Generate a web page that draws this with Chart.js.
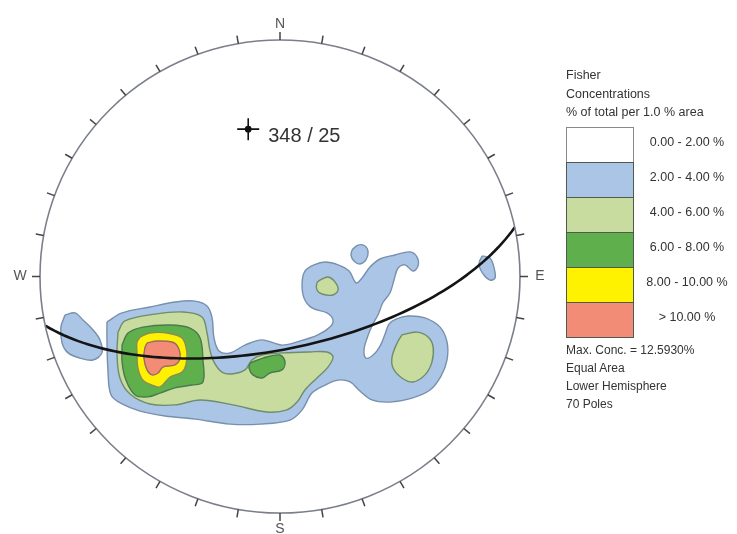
<!DOCTYPE html>
<html>
<head>
<meta charset="utf-8">
<title>Fisher Concentrations – Equal Area Stereonet</title>
<script src="https://cdn.jsdelivr.net/npm/chart.js@4.4.0/dist/chart.umd.min.js"></script>
<style>
  html, body { margin: 0; padding: 0; background: #ffffff; }
  #wrap { position: relative; width: 737px; height: 534px; overflow: hidden; }
  #c { position: absolute; left: 0; top: 0; }
  .txt { position: absolute; font-family: "Liberation Sans", Arial, sans-serif; color: #333; white-space: nowrap; }
  .band { position: absolute; box-sizing: border-box; }
</style>
</head>
<body>
<div id="wrap">
  <canvas id="c" width="737" height="534"></canvas>
</div>
<script>
// ---- Legend content ----
const legendTitle = ['Fisher', 'Concentrations', '% of total per 1.0 % area'];
const levelLabels = ['0.00 - 2.00 %', '2.00 - 4.00 %', '4.00 - 6.00 %', '6.00 - 8.00 %', '8.00 - 10.00 %', '> 10.00 %'];
const legendFooter = ['Max. Conc. = 12.5930%', 'Equal Area', 'Lower Hemisphere', '70 Poles'];

// ---- Mean pole (trend / plunge, degrees) ----
const poleTrend = 348;
const polePlunge = 25;

// ---- Compass points (azimuth, label) ----
const compassAz = [0, 90, 180, 270];
const compassLabels = ['N', 'E', 'S', 'W'];
const tickStepDeg = 10;

// ---- Contour outlines, net radius = 100 (x east, y north) ----
// 2.00 - 4.00 %
const c2Main = [[-72.1,-19.2],[-65.8,-15.4],[-54.2,-12.9],[-43.8,-10.8],[-35.4,-10.4],[-30.4,-12.5],[-28.3,-17.5],[-27.5,-26.0],[-25.4,-31.5],[-20.8,-32.3],[-14.6,-29.0],[-7.5,-26.8],[0.8,-29.0],[8.3,-27.3],[15.8,-24.7],[20.8,-21.4],[22.1,-18.4],[19.6,-15.4],[13.3,-13.3],[10.0,-9.1],[9.2,-2.7],[10.4,2.3],[14.2,4.9],[18.8,6.1],[24.2,4.9],[28.8,2.3],[31.7,-2.7],[34.2,-0.6],[37.5,4.0],[41.7,7.4],[47.9,9.1],[54.2,10.4],[57.1,8.2],[57.5,4.4],[55.4,2.3],[52.1,4.9],[49.2,3.6],[47.5,-1.5],[45.8,-7.0],[42.9,-11.0],[40.8,-16.3],[38.3,-20.9],[36.3,-26.0],[35.0,-31.1],[35.8,-34.5],[38.8,-33.2],[41.7,-29.4],[43.8,-24.3],[45.4,-20.1],[48.3,-18.0],[53.3,-16.7],[60.4,-17.5],[66.7,-21.4],[69.6,-27.7],[69.6,-35.3],[67.1,-42.1],[62.5,-48.0],[55.0,-51.4],[45.8,-53.1],[38.3,-52.2],[33.3,-48.4],[29.2,-44.6],[24.2,-43.8],[18.8,-45.9],[13.3,-49.3],[9.2,-56.4],[4.2,-60.7],[-8.3,-62.4],[-20.8,-62.4],[-35.4,-60.3],[-47.9,-59.0],[-58.3,-56.9],[-65.8,-53.9],[-70.4,-50.1],[-71.7,-39.5],[-72.1,-26.8]];
const c2West = [[-89.6,-16.3],[-85.4,-15.4],[-82.1,-18.4],[-77.9,-22.6],[-75.0,-26.8],[-74.2,-32.3],[-77.9,-35.3],[-83.3,-34.5],[-88.3,-32.3],[-90.8,-28.1],[-91.3,-21.4]];
const c2Islet = [[30.0,11.2],[32.5,13.3],[35.4,12.9],[36.7,10.4],[35.8,7.0],[33.3,5.3],[30.8,6.6],[29.6,8.9]];
const c2East = [[84.2,8.7],[87.5,7.8],[89.2,3.6],[89.6,-0.6],[87.5,-1.5],[84.6,1.1],[82.9,5.3]];
// 4.00 - 6.00 %
const c4Main = [[-67.5,-23.5],[-64.6,-18.8],[-52.1,-15.9],[-40.4,-15.0],[-32.5,-17.1],[-30.4,-23.9],[-29.2,-31.1],[-27.5,-36.2],[-24.2,-40.4],[-20.0,-41.2],[-14.6,-39.5],[-11.7,-35.3],[-7.5,-33.2],[1.3,-32.3],[12.5,-31.9],[19.6,-31.9],[22.1,-34.0],[20.0,-38.3],[15.4,-42.9],[10.4,-48.0],[7.1,-53.1],[2.9,-56.4],[-5.4,-57.3],[-19.6,-54.3],[-33.3,-52.2],[-43.8,-54.3],[-54.2,-53.9],[-62.5,-49.7],[-66.7,-42.9],[-67.9,-33.2]];
const c4East = [[50.8,-24.7],[57.1,-23.5],[61.7,-25.6],[63.8,-29.8],[63.3,-36.2],[60.4,-41.6],[55.4,-44.6],[50.8,-42.9],[47.1,-38.7],[46.7,-34.0],[48.8,-28.1]];
const c4North = [[16.7,-1.5],[20.0,-0.2],[22.9,-2.3],[24.2,-5.7],[22.1,-7.8],[17.5,-7.4],[15.4,-5.7],[15.4,-2.7]];
// 6.00 - 8.00 %
const c6Core = [[-65.8,-28.9],[-63.3,-23.9],[-57.1,-21.4],[-45.8,-20.5],[-37.5,-21.8],[-33.3,-26.0],[-32.1,-35.3],[-32.1,-44.6],[-36.7,-45.9],[-43.8,-47.1],[-50.0,-49.3],[-55.0,-50.9],[-60.4,-50.1],[-64.2,-43.8],[-65.8,-36.2]];
const c6Patch = [[-12.5,-36.6],[-7.1,-34.5],[0.0,-33.2],[2.1,-36.2],[0.8,-39.5],[-4.2,-40.8],[-7.5,-42.9],[-11.3,-41.6],[-12.9,-38.7]];
// 8.00 - 10.00 %
const c8Core = [[-58.3,-25.6],[-54.2,-23.9],[-47.1,-23.9],[-40.8,-26.0],[-38.8,-31.9],[-39.2,-37.4],[-40.8,-40.4],[-45.8,-42.5],[-50.0,-46.7],[-53.3,-45.9],[-57.1,-43.8],[-59.2,-38.7],[-59.6,-31.9],[-59.6,-27.7]];
// > 10.00 %
const c10Core = [[-55.4,-28.1],[-51.3,-27.3],[-45.0,-27.7],[-42.5,-29.8],[-41.7,-34.5],[-43.8,-37.4],[-48.8,-38.3],[-50.8,-40.8],[-53.3,-41.6],[-55.4,-39.5],[-56.7,-34.5],[-56.3,-30.2]];

// ---- Styles ----
const levelFill   = ['#ffffff', '#aac5e6', '#c8dc9f', '#5fb04d', '#fff200', '#f28c76'];
const levelStroke = ['#7a7f8a', '#7890ad', '#6f8c6c', '#4b7a4e', '#8c8a55', '#9a6c62'];
const FONT = '"Liberation Sans", Arial, sans-serif';

// ---- Projection helpers (lower hemisphere) ----
const rad = d => d * Math.PI / 180;
// unit vector (north, east, down) -> net coordinates, equal-area
function equalArea(n, e, dn) {
  const h = Math.hypot(n, e) || 1;
  const r = Math.sqrt(Math.max(0, 1 - dn));
  return { x: 100 * r * e / h, y: 100 * r * n / h };
}
// trend / plunge -> net coordinates, equal-angle placement of the pole symbol
function equalAngle(trend, plunge) {
  const r = Math.tan(rad((90 - plunge) / 2));
  return { x: 100 * r * Math.sin(rad(trend)), y: 100 * r * Math.cos(rad(trend)) };
}
// great circle of the plane whose pole is (trend, plunge)
function greatCircle(trend, plunge) {
  const dipDir = (trend + 180) % 360, dip = 90 - plunge;
  const s = [Math.cos(rad(dipDir - 90)), Math.sin(rad(dipDir - 90)), 0];
  const d = [Math.cos(rad(dip)) * Math.cos(rad(dipDir)), Math.cos(rad(dip)) * Math.sin(rad(dipDir)), Math.sin(rad(dip))];
  const out = [];
  for (let k = 0; k <= 180; k += 2) {
    const t = rad(k);
    const v = [0, 1, 2].map(i => Math.cos(t) * s[i] + Math.sin(t) * d[i]);
    out.push(equalArea(v[0], v[1], v[2]));
  }
  return out;
}

const ring = pts => { const d = pts.map(([x, y]) => ({ x, y })); d.push({ ...d[0] }); return d; };

function contour(pts, level) {
  return {
    data: ring(pts), showLine: true, fill: 'shape', tension: 0.35,
    backgroundColor: levelFill[level], borderColor: levelStroke[level], borderWidth: 1.4,
    pointRadius: 0, pointHoverRadius: 0, order: 10 - level
  };
}

const poleXY = equalAngle(poleTrend, polePlunge);

const datasets = [
  contour(c2Main, 1), contour(c2West, 1), contour(c2Islet, 1), contour(c2East, 1),
  contour(c4Main, 2), contour(c4East, 2), contour(c4North, 2),
  contour(c6Core, 3), contour(c6Patch, 3),
  contour(c8Core, 4),
  contour(c10Core, 5),
  { data: greatCircle(poleTrend, polePlunge), showLine: true, fill: false, tension: 0,
    borderColor: '#141414', borderWidth: 2.6, pointRadius: 0, order: 2 },
  { data: [poleXY], pointStyle: 'cross', pointRadius: 11, borderColor: '#111', borderWidth: 1.6,
    backgroundColor: '#111', order: 1 },
  { data: [poleXY], pointStyle: 'circle', pointRadius: 3.4, borderColor: '#111', borderWidth: 0,
    backgroundColor: '#111', order: 0 }
];

// Net outline, azimuth ticks, compass letters and pole label
const netFrame = {
  id: 'netFrame',
  afterDatasetsDraw(chart) {
    const { ctx, scales: { x, y } } = chart;
    const cx = x.getPixelForValue(0), cy = y.getPixelForValue(0);
    const rx = x.getPixelForValue(100) - cx, ry = cy - y.getPixelForValue(100);
    ctx.save();
    ctx.strokeStyle = levelStroke[0];
    ctx.lineWidth = 1.6;
    ctx.beginPath();
    ctx.ellipse(cx, cy, rx, ry, 0, 0, Math.PI * 2);
    ctx.stroke();
    ctx.strokeStyle = '#444';
    ctx.lineWidth = 1.5;
    for (let a = 0; a < 360; a += tickStepDeg) {
      const sx = Math.sin(rad(a)), sy = Math.cos(rad(a));
      const px = cx + rx * sx, py = cy - ry * sy;
      ctx.beginPath();
      ctx.moveTo(px, py);
      ctx.lineTo(px + 8 * sx, py - 8 * sy);
      ctx.stroke();
    }
    ctx.fillStyle = '#555';
    ctx.font = '14px ' + FONT;
    ctx.textAlign = 'center';
    ctx.textBaseline = 'middle';
    compassAz.forEach((a, i) => {
      const sx = Math.sin(rad(a)), sy = Math.cos(rad(a));
      const off = (a === 0 || a === 180) ? 16 : 20;
      ctx.fillText(compassLabels[i], cx + (rx + off) * sx, cy - (ry + off) * sy);
    });
    const mx = x.getPixelForValue(poleXY.x), my = y.getPixelForValue(poleXY.y);
    ctx.fillStyle = '#333';
    ctx.font = '20px ' + FONT;
    ctx.textAlign = 'left';
    ctx.fillText(poleTrend + ' / ' + polePlunge, mx + 20, my + 7);
    ctx.restore();
  }
};

new Chart(document.getElementById('c'), {
  type: 'scatter',
  data: { datasets },
  options: {
    responsive: false,
    animation: false,
    events: [],
    layout: { padding: { left: 40, top: 40, right: 217, bottom: 21 } },
    scales: {
      x: { type: 'linear', min: -100, max: 100, display: false },
      y: { type: 'linear', min: -100, max: 100, display: false }
    },
    plugins: { legend: { display: false }, tooltip: { enabled: false } }
  },
  plugins: [netFrame]
});

// ---- Legend panel ----
const wrap = document.getElementById('wrap');
function addText(str, left, top, size, extra) {
  const el = document.createElement('div');
  el.className = 'txt';
  el.textContent = str;
  el.style.left = left + 'px';
  el.style.top = top + 'px';
  el.style.fontSize = size + 'px';
  el.style.lineHeight = '18px';
  if (extra) Object.assign(el.style, extra);
  wrap.appendChild(el);
}
legendTitle.forEach((t, i) => addText(t, 566, 66 + i * 18.5, 12.5));
levelLabels.forEach((t, i) => {
  const band = document.createElement('div');
  band.className = 'band';
  band.style.left = '566px';
  band.style.top = (127 + i * 35) + 'px';
  band.style.width = '68px';
  band.style.height = '36px';
  band.style.background = levelFill[i];
  band.style.border = '1px solid ' + (i === 0 ? '#8a8a8a' : '#4e5a4e');
  wrap.appendChild(band);
  addText(t, 638, 127 + i * 35 + 6, 12.5, { width: '98px', textAlign: 'center' });
});
legendFooter.forEach((t, i) => addText(t, 566, 341 + i * 18, 12));
</script>
</body>
</html>
